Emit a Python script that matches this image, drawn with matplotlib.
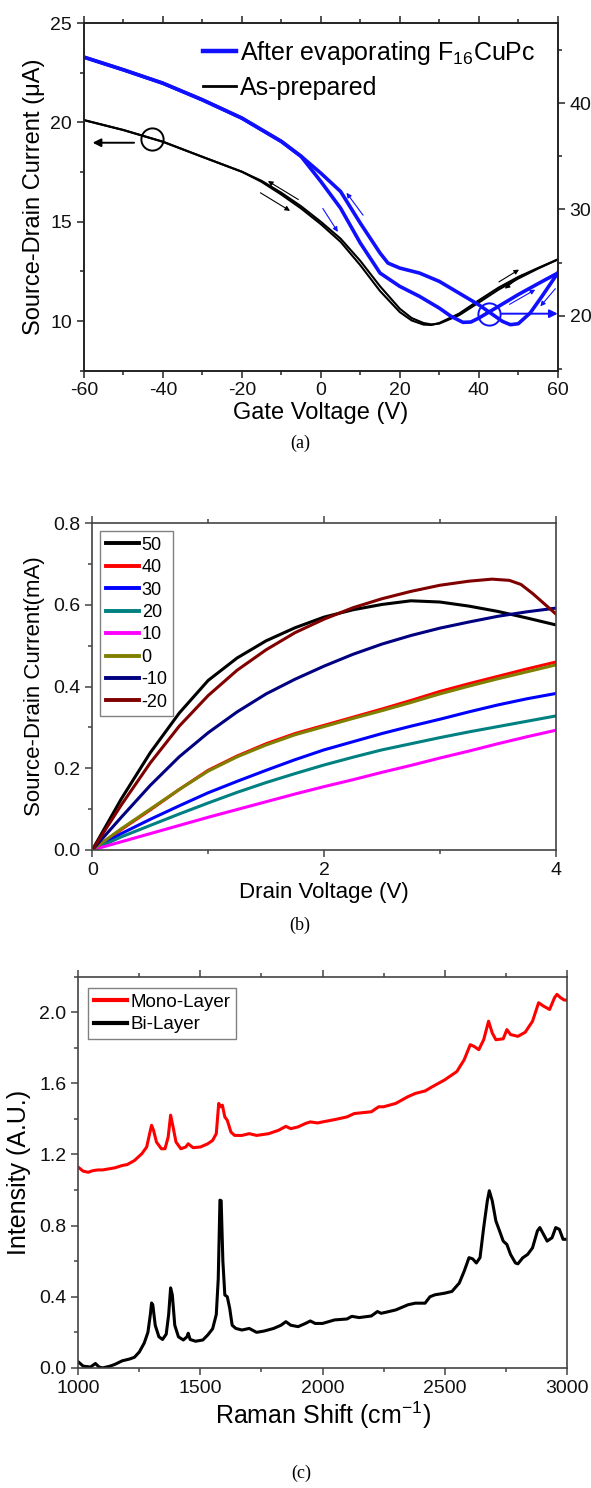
import numpy as np
import matplotlib
matplotlib.use("Agg")
import matplotlib.pyplot as plt
from matplotlib.ticker import MultipleLocator, FormatStrFormatter

plt.rcParams["font.family"] = ["Liberation Sans", "DejaVu Sans"]
plt.rcParams["axes.unicode_minus"] = False
plt.rcParams["mathtext.fontset"] = "custom"
plt.rcParams["mathtext.rm"] = "Liberation Sans"
plt.rcParams["mathtext.it"] = "Liberation Sans:italic"

# ---------------------------------------------------------------
# (a) transfer curves: gate sweep, as-prepared vs after F16CuPc
# ---------------------------------------------------------------
vg_black = [-60, -50, -40, -30, -20, -15, -10, -5, 0, 5, 10, 15, 20, 23, 26,
            28, 30, 35, 40, 45, 50, 55, 60]
ids_black_fwd = [20.12, 19.62, 19.03, 18.27, 17.52, 17.01, 16.37, 15.67, 14.88,
                 13.99, 12.81, 11.51, 10.45, 10.03, 9.82, 9.80, 9.90, 10.37,
                 11.04, 11.68, 12.22, 12.67, 13.10]
ids_black_rev = [20.12, 19.62, 19.03, 18.27, 17.52, 17.06, 16.46, 15.78, 15.00,
                 14.15, 13.03, 11.75, 10.62, 10.15, 9.90, 9.83, 9.87, 10.29,
                 10.93, 11.58, 12.14, 12.64, 13.10]

vg_blue_out = [-60, -50, -40, -30, -20, -10, -5, 0, 5, 10, 15, 17, 20, 25, 30,
               35, 40, 43, 46, 48, 50, 53, 56, 60]
ids_blue_out = [44.31, 43.12, 41.86, 40.30, 38.58, 36.39, 35.00, 33.41, 31.69,
                28.71, 25.90, 24.96, 24.49, 24.02, 23.24, 22.14, 21.04, 20.26,
                19.48, 19.17, 19.26, 20.26, 21.83, 24.02]
vg_blue_in = [-60, -50, -40, -30, -20, -10, -5, 0, 5, 10, 15, 20, 25, 30, 33,
              36, 38, 40, 45, 50, 55, 60]
ids_blue_in = [44.31, 43.12, 41.86, 40.30, 38.58, 36.39, 34.98, 32.63, 30.12,
               26.84, 24.02, 22.77, 21.83, 20.73, 19.95, 19.39, 19.42, 19.79,
               20.89, 22.00, 23.02, 24.02]

# sweep-direction arrows (start, end) in left-axis units
sweep_black = [((-5.7, 16.12), (-13.4, 17.05)), ((-15.3, 16.46), (-7.8, 15.55)),
               ((45.1, 11.97), (50.2, 12.59)), ((51.1, 12.35), (46.6, 11.63))]
sweep_blue = [((0.5, 15.67), (4.3, 14.49)), ((10.7, 15.33), (6.5, 16.46)),
              ((47.8, 10.84), (54.3, 11.58)), ((59.4, 11.63), (55.6, 10.74))]

# ---------------------------------------------------------------
# (b) output curves at different gate voltages
# ---------------------------------------------------------------
vd = [0, 0.25, 0.5, 0.75, 1.0, 1.25, 1.5, 1.75, 2.0, 2.25, 2.5, 2.75, 3.0,
      3.25, 3.5, 3.75, 4.0]
out_labels = ["50", "40", "30", "20", "10", "0", "-10", "-20"]
out_colors = ["#000000", "#ff0000", "#0000ff", "#008080", "#ff00ff",
              "#808000", "#000080", "#800000"]
id_50 = [0, 0.125, 0.238, 0.335, 0.415, 0.470, 0.512, 0.544, 0.570, 0.588,
         0.601, 0.610, 0.607, 0.597, 0.584, 0.568, 0.551]
id_40 = [0, 0.050, 0.098, 0.148, 0.195, 0.230, 0.260, 0.285, 0.305, 0.325,
         0.345, 0.366, 0.388, 0.407, 0.425, 0.443, 0.460]
id_30 = [0, 0.040, 0.075, 0.108, 0.140, 0.168, 0.195, 0.221, 0.245, 0.265,
         0.285, 0.303, 0.320, 0.338, 0.355, 0.370, 0.383]
id_20 = [0, 0.032, 0.060, 0.088, 0.115, 0.141, 0.165, 0.187, 0.208, 0.227,
         0.245, 0.260, 0.275, 0.289, 0.302, 0.315, 0.328]
id_10 = [0, 0.020, 0.040, 0.060, 0.080, 0.099, 0.118, 0.137, 0.155, 0.172,
         0.190, 0.207, 0.225, 0.242, 0.260, 0.277, 0.293]
id_0 = [0, 0.052, 0.100, 0.148, 0.193, 0.228, 0.257, 0.282, 0.302, 0.322,
        0.341, 0.361, 0.382, 0.401, 0.419, 0.436, 0.453]
id_m10 = [0, 0.080, 0.158, 0.228, 0.287, 0.338, 0.382, 0.418, 0.450, 0.479,
          0.504, 0.525, 0.543, 0.558, 0.572, 0.583, 0.592]
vd_m20 = [0, 0.25, 0.5, 0.75, 1.0, 1.25, 1.5, 1.75, 2.0, 2.25, 2.5, 2.75, 3.0,
          3.25, 3.45, 3.6, 3.7, 3.8, 3.9, 4.0]
id_m20 = [0, 0.110, 0.213, 0.303, 0.378, 0.440, 0.490, 0.532, 0.565, 0.593,
          0.615, 0.633, 0.648, 0.658, 0.663, 0.660, 0.650, 0.628, 0.603, 0.578]

# ---------------------------------------------------------------
# (c) Raman spectra
# ---------------------------------------------------------------
shift_bi = [1000, 1020, 1050, 1070, 1085, 1100, 1130, 1150, 1180, 1210, 1230,
            1250, 1270, 1285, 1295, 1300, 1305, 1315, 1330, 1345, 1360, 1370,
            1378, 1385, 1395, 1410, 1430, 1445, 1450, 1458, 1480, 1510, 1530,
            1550, 1565, 1573, 1580, 1585, 1592, 1600, 1610, 1620, 1630, 1645,
            1670, 1700, 1730, 1760, 1800, 1830, 1850, 1870, 1900, 1930, 1950,
            1970, 2000, 2050, 2100, 2120, 2150, 2200, 2225, 2240, 2260, 2300,
            2350, 2380, 2420, 2440, 2460, 2500, 2530, 2560, 2580, 2600, 2615,
            2630, 2645, 2660, 2675, 2683, 2695, 2710, 2725, 2740, 2755, 2770,
            2790, 2800, 2820, 2840, 2860, 2880, 2890, 2905, 2920, 2940, 2955,
            2970, 2985, 3000]
int_bi = [0.034, 0.010, 0.005, 0.025, 0.005, 0.000, 0.010, 0.020, 0.040, 0.050,
          0.060, 0.090, 0.140, 0.200, 0.300, 0.365, 0.355, 0.240, 0.175, 0.160,
          0.190, 0.300, 0.450, 0.410, 0.240, 0.175, 0.157, 0.175, 0.195, 0.160,
          0.150, 0.157, 0.185, 0.220, 0.300, 0.500, 0.943, 0.940, 0.600, 0.410,
          0.400, 0.335, 0.240, 0.222, 0.213, 0.222, 0.200, 0.207, 0.222, 0.240,
          0.260, 0.240, 0.232, 0.250, 0.264, 0.250, 0.250, 0.270, 0.275, 0.290,
          0.283, 0.292, 0.317, 0.307, 0.313, 0.326, 0.355, 0.364, 0.364, 0.400,
          0.411, 0.420, 0.430, 0.477, 0.543, 0.620, 0.613, 0.590, 0.620, 0.789,
          0.940, 0.996, 0.940, 0.826, 0.770, 0.713, 0.694, 0.638, 0.590, 0.585,
          0.619, 0.638, 0.675, 0.770, 0.789, 0.751, 0.713, 0.732, 0.789, 0.779,
          0.723, 0.723]
shift_mono = [1000, 1020, 1040, 1060, 1080, 1100, 1150, 1180, 1200, 1230, 1260,
              1280, 1292, 1300, 1308, 1320, 1340, 1355, 1368, 1378, 1388, 1400,
              1420, 1440, 1450, 1470, 1500, 1530, 1550, 1565, 1575, 1583, 1590,
              1600, 1610, 1625, 1640, 1670, 1700, 1730, 1780, 1820, 1850, 1870,
              1900, 1930, 1950, 1980, 2000, 2050, 2100, 2130, 2200, 2230, 2250,
              2300, 2350, 2380, 2420, 2450, 2500, 2550, 2580, 2605, 2620, 2640,
              2660, 2680, 2695, 2710, 2740, 2755, 2770, 2800, 2830, 2860, 2885,
              2905, 2930, 2950, 2960, 2975, 2990, 3000]
int_mono = [1.128, 1.106, 1.100, 1.109, 1.113, 1.113, 1.125, 1.138, 1.143,
            1.166, 1.204, 1.242, 1.317, 1.364, 1.336, 1.270, 1.232, 1.232,
            1.298, 1.421, 1.355, 1.270, 1.232, 1.242, 1.260, 1.238, 1.242,
            1.260, 1.279, 1.317, 1.487, 1.468, 1.477, 1.411, 1.392, 1.326,
            1.307, 1.307, 1.317, 1.307, 1.317, 1.336, 1.358, 1.345, 1.355,
            1.374, 1.383, 1.377, 1.383, 1.396, 1.411, 1.430, 1.440, 1.468,
            1.468, 1.487, 1.525, 1.543, 1.557, 1.581, 1.619, 1.666, 1.732,
            1.817, 1.808, 1.789, 1.845, 1.949, 1.883, 1.845, 1.850, 1.902,
            1.874, 1.864, 1.887, 1.949, 2.053, 2.034, 2.015, 2.081, 2.100,
            2.081, 2.068, 2.068]


def style_axes(ax, color):
    for sp in ax.spines.values():
        sp.set_color(color)
        sp.set_linewidth(1.2)
    ax.tick_params(which="both", direction="out", colors=color,
                   labelcolor="#111111", labelsize=14, width=1.1)
    ax.tick_params(which="major", length=5)
    ax.tick_params(which="minor", length=3)


fig = plt.figure(figsize=(5.91, 14.88), dpi=100)

# ---- panel (a)
ax_a = fig.add_axes([0.142, 0.7509, 0.8017, 0.2335])
ax_b2 = ax_a.twinx()
ax_a.plot(vg_black, ids_black_fwd, color="black", lw=1.5)
ax_a.plot(vg_black, ids_black_rev, color="black", lw=1.5)
ax_b2.plot(vg_blue_out, ids_blue_out, color="#1010ff", lw=2.6)
ax_b2.plot(vg_blue_in, ids_blue_in, color="#1010ff", lw=2.6)

ax_a.set_xlim(-60, 60)
ax_a.set_ylim(7.5, 25)
ax_b2.set_ylim(14.85, 47.5)
ax_a.xaxis.set_major_locator(MultipleLocator(20))
ax_a.xaxis.set_minor_locator(MultipleLocator(10))
ax_a.yaxis.set_major_locator(MultipleLocator(5))
ax_a.yaxis.set_minor_locator(MultipleLocator(2.5))
ax_b2.yaxis.set_major_locator(MultipleLocator(10))
ax_b2.yaxis.set_minor_locator(MultipleLocator(5))
ax_a.set_yticks([10, 15, 20, 25])
style_axes(ax_a, "#222222")
style_axes(ax_b2, "#222222")
ax_a.tick_params(which="both", top=True)
ax_a.set_xlabel("Gate Voltage (V)", fontsize=17, labelpad=2)
ax_a.set_ylabel("Source-Drain Current (\u03bcA)", fontsize=17, labelpad=4)

for (x0, y0), (x1, y1) in sweep_black:
    ax_a.annotate("", xy=(x1, y1), xytext=(x0, y0),
                  arrowprops=dict(arrowstyle="-|>", color="black", lw=0.8,
                                  mutation_scale=7, shrinkA=0, shrinkB=0))
for (x0, y0), (x1, y1) in sweep_blue:
    ax_a.annotate("", xy=(x1, y1), xytext=(x0, y0),
                  arrowprops=dict(arrowstyle="-|>", color="#1010ff", lw=0.8,
                                  mutation_scale=7, shrinkA=0, shrinkB=0))
# axis markers: circle + arrow pointing to the axis each curve belongs to
ax_a.plot(-42.7, 19.15, "o", ms=16, mfc="none", mec="black", mew=1.4)
ax_a.annotate("", xy=(-57.8, 18.98), xytext=(-47.3, 18.98),
              arrowprops=dict(arrowstyle="-|>", color="black", lw=1.4,
                              mutation_scale=12, shrinkA=0, shrinkB=0))
ax_a.plot(42.6, 10.37, "o", ms=16, mfc="none", mec="#1010ff", mew=1.4)
ax_a.annotate("", xy=(60, 10.37), xytext=(45.8, 10.37),
              arrowprops=dict(arrowstyle="-|>", color="#1010ff", lw=1.4,
                              mutation_scale=12, shrinkA=0, shrinkB=0))

h_blue, = ax_b2.plot([], [], color="#1010ff", lw=3.2)
h_black, = ax_b2.plot([], [], color="black", lw=2.0)
ax_b2.legend([h_blue, h_black],
             ["After evaporating F$_{16}$CuPc", "As-prepared"],
             loc="upper left", bbox_to_anchor=(0.252, 0.955), frameon=False,
             fontsize=18, handlelength=1.3, handletextpad=0.15,
             labelspacing=0.35, borderaxespad=0, borderpad=0)
fig.text(0.508, 1 - 443 / 1488, "(a)", family=["Liberation Serif"],
         fontsize=13, ha="center", va="center")

# ---- panel (b)
ax_o = fig.add_axes([0.1562, 0.4288, 0.7841, 0.2196])
out_x = [vd, vd, vd, vd, vd, vd, vd, vd_m20]
out_y = [id_50, id_40, id_30, id_20, id_10, id_0, id_m10, id_m20]
for xs, ys, c, lab in zip(out_x, out_y, out_colors, out_labels):
    ax_o.plot(xs, ys, color=c, lw=2.2, label=lab)
ax_o.set_xlim(0, 4)
ax_o.set_ylim(0, 0.8)
ax_o.xaxis.set_major_locator(MultipleLocator(2))
ax_o.xaxis.set_minor_locator(MultipleLocator(1))
ax_o.yaxis.set_major_locator(MultipleLocator(0.2))
ax_o.yaxis.set_minor_locator(MultipleLocator(0.1))
ax_o.yaxis.set_major_formatter(FormatStrFormatter("%.1f"))
style_axes(ax_o, "#444444")
ax_o.tick_params(which="both", top=True)
ax_o.set_xlabel("Drain Voltage (V)", fontsize=16, labelpad=2)
ax_o.set_ylabel("Source-Drain Current(mA)", fontsize=16, labelpad=6)
leg = ax_o.legend(loc="upper left", bbox_to_anchor=(0.017, 0.975),
                  fontsize=13, handlelength=1.85, handletextpad=0.15,
                  labelspacing=0.3, borderaxespad=0, borderpad=0.3,
                  fancybox=False, framealpha=1)
leg.get_frame().set_edgecolor("#808080")
leg.get_frame().set_linewidth(1.0)
for ln in leg.get_lines():
    ln.set_linewidth(2.8)
fig.text(0.508, 1 - 925 / 1488, "(b)", family=["Liberation Serif"],
         fontsize=13, ha="center", va="center")

# ---- panel (c)
ax_r = fig.add_axes([0.1325, 0.0807, 0.8264, 0.2630])
ax_r.plot(shift_mono, int_mono, color="#ff0000", lw=2.2, label="Mono-Layer")
ax_r.plot(shift_bi, int_bi, color="black", lw=2.2, label="Bi-Layer")
ax_r.set_xlim(1000, 3000)
ax_r.set_ylim(0, 2.2)
ax_r.xaxis.set_major_locator(MultipleLocator(500))
ax_r.xaxis.set_minor_locator(MultipleLocator(250))
ax_r.yaxis.set_major_locator(MultipleLocator(0.4))
ax_r.yaxis.set_minor_locator(MultipleLocator(0.2))
ax_r.yaxis.set_major_formatter(FormatStrFormatter("%.1f"))
style_axes(ax_r, "#444444")
ax_r.tick_params(which="both", top=True)
ax_r.set_xlabel("Raman Shift (cm$^{-1}$)", fontsize=18, labelpad=2)
ax_r.set_ylabel("Intensity (A.U.)", fontsize=18, labelpad=6)
leg = ax_r.legend(loc="upper left", bbox_to_anchor=(0.02, 0.971),
                  fontsize=13.5, handlelength=1.8, handletextpad=0.15,
                  labelspacing=0.3, borderaxespad=0, borderpad=0.3,
                  fancybox=False, framealpha=1)
leg.get_frame().set_edgecolor("#808080")
leg.get_frame().set_linewidth(1.0)
for ln in leg.get_lines():
    ln.set_linewidth(3.0)
fig.text(0.51, 1 - 1473 / 1488, "(c)", family=["Liberation Serif"],
         fontsize=13, ha="center", va="center")

fig.savefig("out.png", dpi=100)
